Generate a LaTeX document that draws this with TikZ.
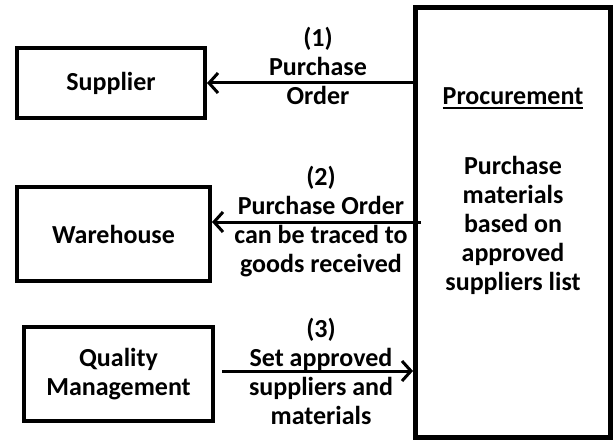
\documentclass[tikz,border=0pt]{standalone}
\usepackage{fontspec}
\setmainfont{Carlito}
\usetikzlibrary{arrows.meta}
\newcommand\myul[1]{\setbox0\hbox{#1}\rlap{\rule[-4pt]{\wd0}{2pt}}\box0}
\begin{document}
\begin{tikzpicture}[x=1pt,y=-1pt,
  font=\fontsize{26}{29}\selectfont\bfseries,
  box/.style={draw, line width=4pt, inner sep=0pt, align=center},
  lbl/.style={align=center, inner sep=0pt, anchor=base},
  arr/.style={line width=3pt, -{Straight Barb[length=9pt,width=20pt]}}]
\useasboundingbox (0,0) rectangle (615,441);
\node[box, minimum width=188pt, minimum height=70pt] (sup) at (111,83) {Supplier};
\node[box, minimum width=193pt, minimum height=94pt] (wh) at (113.5,234) {Warehouse};
\node[box, minimum width=189pt, minimum height=94pt] (qm) at (118.5,374) {Quality\\Management};
\node[draw, line width=5pt, minimum width=195pt, minimum height=430pt, inner sep=0pt] (proc) at (513,222.5) {};
\node[lbl] (title) at (513,105) {\myul{Procurement}};
\node[lbl] (body) at (513,290) {Purchase\\materials\\based on\\approved\\suppliers list};
\node[lbl] (l1) at (318,105) {(1)\\Purchase\\Order};
\node[lbl] (l2) at (321,272) {(2)\\Purchase Order\\can be traced to\\goods received};
\node[lbl] (l3) at (321,424) {(3)\\Set approved\\suppliers and\\materials};
\coordinate (a2s) at (421,222);
\coordinate (a3s) at (222,371);
\draw[arr] (proc.west |- sup.east) -- (sup.east);
\draw[arr] (a2s) -- (wh.east |- a2s);
\draw[arr] (a3s) -- (proc.west |- a3s);
\end{tikzpicture}
\end{document}
